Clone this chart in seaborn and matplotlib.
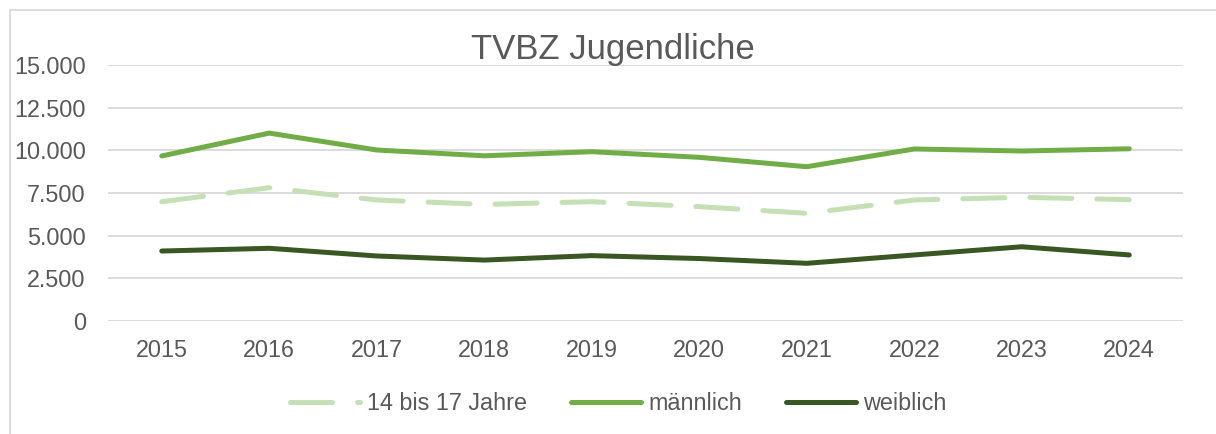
import numpy as np
import pandas as pd
import seaborn as sns
import matplotlib.pyplot as plt
from matplotlib.patches import Rectangle
from matplotlib.ticker import FuncFormatter

years = [2015, 2016, 2017, 2018, 2019, 2020, 2021, 2022, 2023, 2024]
jahre_14_17 = [6990, 7810, 7090, 6830, 6990, 6700, 6310, 7090, 7250, 7110]
maennlich = [9670, 11010, 10020, 9680, 9920, 9590, 9040, 10080, 9960, 10090]
weiblich = [4100, 4260, 3810, 3570, 3830, 3660, 3380, 3870, 4350, 3870]

series_names = ["14 bis 17 Jahre", "männlich", "weiblich"]
colors = ["#C5E0B4", "#70AD47", "#385723"]

df = pd.DataFrame({"Jahr": years,
                   series_names[0]: jahre_14_17,
                   series_names[1]: maennlich,
                   series_names[2]: weiblich})
df = df.melt(id_vars="Jahr", var_name="Gruppe", value_name="Wert")
df["pos"] = df["Jahr"] - years[0]

sns.set_style("white")
plt.rcParams["font.family"] = ["Liberation Sans", "DejaVu Sans"]

fs = 16.8
fig = plt.figure(figsize=(12.16, 4.34), dpi=100)
ax = fig.add_axes([108 / 1216, (434 - 321) / 434, (1183 - 108) / 1216, 256 / 434])

sns.lineplot(data=df, x="pos", y="Wert", hue="Gruppe", style="Gruppe",
             palette=dict(zip(series_names, colors)),
             dashes={series_names[0]: (8.4, 5), series_names[1]: "", series_names[2]: ""},
             linewidth=3.6, ax=ax, legend=False)
for ln in ax.get_lines():
    ln.set_solid_capstyle("round")
    ln.set_dash_capstyle("round")

ax.set_xlim(-0.5, len(years) - 0.5)
ax.set_ylim(0, 15000)
ax.set_yticks(np.arange(0, 15001, 2500))
ax.yaxis.set_major_formatter(FuncFormatter(lambda v, p: f"{int(v):,}".replace(",", ".")))
ax.set_xticks(range(len(years)))
ax.set_xticklabels([str(y) for y in years])
ax.grid(axis="y", color="#D9D9D9", linewidth=1.3)
ax.set_axisbelow(True)
ax.tick_params(axis="both", length=0, labelsize=fs, colors="#595959")
ax.tick_params(axis="x", pad=13)
ax.tick_params(axis="y", pad=16)
ax.set_xlabel("")
ax.set_ylabel("")
for s in ax.spines.values():
    s.set_visible(False)

fig.text(613 / 1216, (434 - 50) / 434, "TVBZ Jugendliche", ha="center", va="center",
         fontsize=25, color="#595959")

# outer chart border
fig.patches.append(Rectangle((10 / 1216, -0.1), 1.2, (434 - 10) / 434 + 0.1,
                             transform=fig.transFigure, fill=False,
                             edgecolor="#D9D9D9", linewidth=1.3))

handles = []
for name, c in zip(series_names, colors):
    if name == series_names[0]:
        h, = ax.plot([], [], color=c, linewidth=3.6, dashes=(8.4, 5),
                     dash_capstyle="round", label=name)
    else:
        h, = ax.plot([], [], color=c, linewidth=3.6, solid_capstyle="round", label=name)
    handles.append(h)
fig.legend(handles=handles, loc="center", bbox_to_anchor=(618 / 1216, (434 - 404) / 434),
           ncol=3, frameon=False, fontsize=fs, labelcolor="#595959",
           handlelength=3.0, handletextpad=0.3, columnspacing=1.9)

fig.savefig("out.png", dpi=100)
